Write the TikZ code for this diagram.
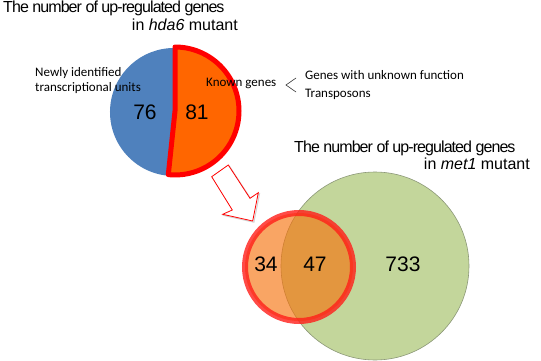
\documentclass[tikz,border=0pt]{standalone}
\usepackage{fontspec}
\setmainfont{Liberation Sans}
\newfontfamily\calibrifont{Carlito}
\definecolor{pieblue}{RGB}{79,129,189}
\definecolor{pieorange}{RGB}{255,102,0}
\definecolor{vennorange}{RGB}{247,113,10}
\definecolor{venngreen}{RGB}{195,214,155}
\definecolor{venngreenline}{RGB}{140,152,120}
\definecolor{ringred}{RGB}{255,30,25}
\begin{document}
\begin{tikzpicture}[x=1pt,y=-1pt,
  title/.style={inner sep=0pt,font=\fontsize{16}{19}\selectfont},
  tighttitle/.style={inner sep=0pt,font=\fontsize{16}{19}\selectfont\addfontfeature{LetterSpace=-5.8}},
  lbl/.style={inner sep=0pt,font=\calibrifont\fontsize{13}{16}\selectfont},
  num/.style={inner sep=0pt,font=\fontsize{21}{25}\selectfont},
  ]
\useasboundingbox (0,0) rectangle (541,361);
\fill[white] (0,0) rectangle (541,361);

% ---- pie chart ----
\coordinate (pc) at (174,112);
\coordinate (oc) at (175,111);
\fill[pieblue] (pc) -- ++(96:64) arc[start angle=96,end angle=270,radius=64] -- cycle;
\filldraw[fill=pieorange,draw=red,line width=5pt,line join=round]
  (oc) -- ++(-90:64) arc[start angle=-90,end angle=96,radius=64] -- cycle;

\node[num] (n76) at (145,112) {76};
\node[num] (n81) at (197,112) {81};

% ---- titles ----
\node[tighttitle,anchor=base west] (t1a) at (3,13) {The number of up-regulated genes};
\node[title,anchor=base east] (t1b) at (238,31) {in \textit{hda6} mutant};
\node[tighttitle,anchor=base west] (t2a) at (294,152) {The number of up-regulated genes};
\node[title,anchor=base east] (t2b) at (530,169) {in \textit{met1} mutant};

% ---- labels ----
\node[lbl,anchor=base west] (nw1) at (35,77) {Newly identified};
\node[lbl,anchor=base west] (nw2) at (35,92) {transcriptional units};
\node[lbl,anchor=base west] (kg) at (206,86) {Known genes};
\node[lbl,anchor=base west] (gu) at (305,80) {Genes with unknown function};
\node[lbl,anchor=base west] (tp) at (305,97) {Transposons};
\coordinate (lt1) at (296,78);
\coordinate (lt2) at (286,85);
\coordinate (lt3) at (296,92);
\draw[black!80,line width=0.6pt] (lt1) -- (lt2) -- (lt3);

% ---- hollow arrow ----
\draw[gray!35,line width=1pt,line join=miter,shift={(1.2,1.2)}]
  (211.7,176.7) -- (232.3,210) -- (222.7,214.3) -- (252.7,221) -- (258.3,192.7) -- (250,198.3) -- (228.3,165) -- cycle;
\filldraw[fill=white,draw=red,line width=0.8pt,line join=miter]
  (211.7,176.7) -- (232.3,210) -- (222.7,214.3) -- (252.7,221) -- (258.3,192.7) -- (250,198.3) -- (228.3,165) -- cycle;

% ---- venn ----
\node[circle,draw=venngreenline,line width=0.6pt,fill=venngreen,minimum size=188pt,inner sep=0pt] (green) at (375,266) {};
\node[circle,draw=ringred,draw opacity=0.8,line width=6pt,fill=vennorange,fill opacity=0.63,minimum size=108pt,inner sep=0pt] (redc) at (299,267) {};

\node[num] (n34) at (266,264) {34};
\node[num] (n47) at (315,264) {47};
\node[num] (n733) at (403,264) {733};
\end{tikzpicture}
\end{document}
